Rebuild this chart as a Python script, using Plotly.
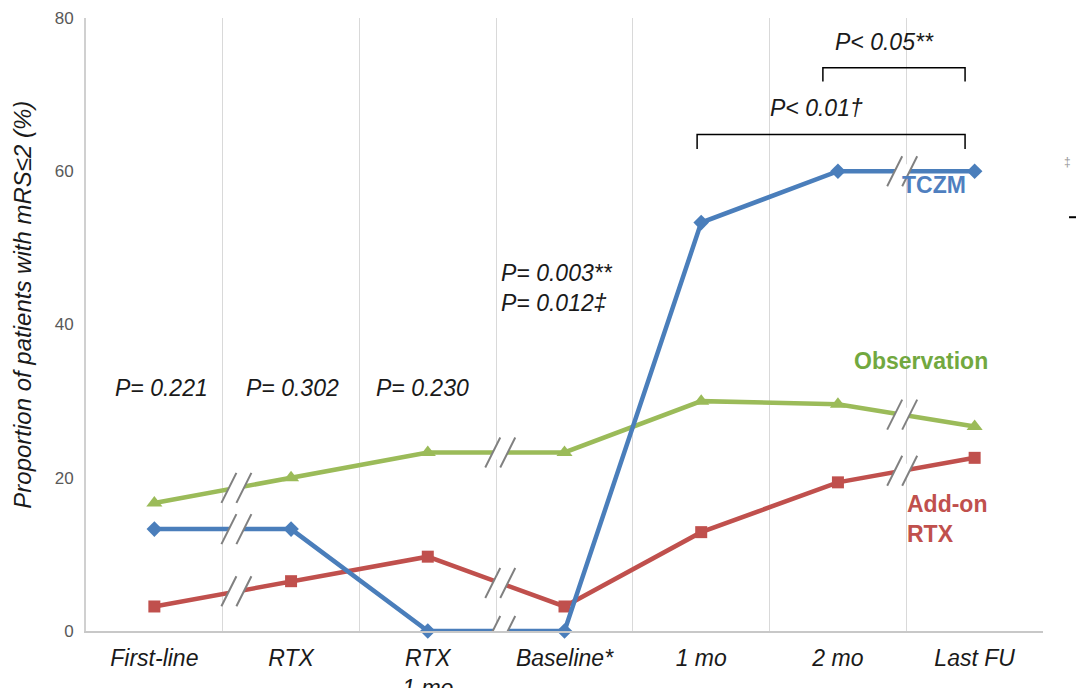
import numpy as np
import plotly.graph_objects as go

# Time points and proportion of patients with mRS<=2 (%) per treatment group
categories = ["First-line", "RTX", "RTX<br>1 mo", "Baseline*", "1 mo", "2 mo", "Last FU"]
tczm = [13.3, 13.3, 0.0, 0.0, 53.3, 60.0, 60.0]
observation = [16.7, 20.0, 23.3, 23.3, 30.0, 29.6, 26.7]
addon_rtx = [3.2, 6.5, 9.7, 3.2, 12.9, 19.4, 22.6]
y_ticks = [0, 20, 40, 60, 80]

BLUE = "#4A7EBB"
GREEN = "#9BBB59"
RED = "#C0504D"
FONT = "Liberation Sans, Arial, sans-serif"

series = [
    ("Observation", observation, GREEN, "triangle-up", 14),
    ("Add-on RTX", addon_rtx, RED, "square", 12),
    ("TCZM", tczm, BLUE, "diamond", 12),
]

fig = go.Figure()
for name, vals, color, symbol, size in series:
    fig.add_trace(go.Scatter(
        x=categories, y=vals, name=name, mode="lines+markers",
        line=dict(color=color, width=4.5),
        marker=dict(symbol=symbol, size=size, color=color),
        cliponaxis=False, showlegend=False,
    ))

# Broken-time-scale markers ("//") across each line
break_positions = [0.6, 2.53, 5.47]
idx = np.arange(len(categories))
shapes = []
for bx in break_positions:
    for _, vals, _, _, _ in series:
        by = float(np.interp(bx, idx, vals))
        common = dict(xref="x", yref="y", xsizemode="pixel", ysizemode="pixel",
                      xanchor=bx, yanchor=by, layer="above")
        shapes.append(dict(type="path", path="M-11,-7L-4,7L11,7L4,-7Z",
                           fillcolor="white", line=dict(width=0), **common))
        shapes.append(dict(type="path", path="M-15,-15L0,15",
                           line=dict(color="#808080", width=2), **common))
        shapes.append(dict(type="path", path="M0,-15L15,15",
                           line=dict(color="#808080", width=2), **common))

# Significance brackets
def bracket(x0, x1, y, drop):
    return dict(type="path", xref="x", yref="y",
                path=f"M{x0},{y - drop} L{x0},{y} L{x1},{y} L{x1},{y - drop}",
                line=dict(color="black", width=1.5), layer="above")

shapes.append(bracket(4.89, 5.93, 73.5, 1.8))
shapes.append(bracket(3.97, 5.93, 64.8, 1.9))

# Fragment of neighbouring content at the right margin
shapes.append(dict(type="line", xref="paper", yref="paper",
                   x0=1.0272, x1=1.036, y0=0.675, y1=0.675,
                   line=dict(color="black", width=2)))

txt = dict(family=FONT, size=23, color="#1a1a1a")
annotations = [
    dict(x=0, y=31.7, text="<i>P= 0.221</i>", xshift=7),
    dict(x=1, y=31.7, text="<i>P= 0.302</i>", xshift=1),
    dict(x=2, y=31.7, text="<i>P= 0.230</i>", xshift=-5),
    dict(x=2.52, y=44.8, text="<i>P= 0.003**<br>P= 0.012‡</i>",
         xanchor="left", align="left"),
    dict(x=5.34, y=76.9, text="<i>P< 0.05**</i>"),
    dict(x=4.84, y=68.3, text="<i>P< 0.01†</i>"),
]
for a in annotations:
    a.update(xref="x", yref="y", showarrow=False, font=txt)
    a.setdefault("xanchor", "center")

label_font = dict(family=FONT, size=23)
annotations += [
    dict(x=5.70, y=58.2, text="<b>TCZM</b>", font=dict(label_font, color="#4F7FBF")),
    dict(x=5.61, y=35.2, text="<b>Observation</b>", font=dict(label_font, color="#72A83F")),
    dict(x=5.49, y=14.6, text="<b>Add-on<br>RTX</b>", xanchor="left", align="left",
         font=dict(label_font, color=RED)),
]
for a in annotations[-3:]:
    a.update(xref="x", yref="y", showarrow=False)

# Y-axis title, placed as rotated text
annotations.append(dict(
    xref="paper", yref="paper", x=-0.066, y=0.532, textangle=-90,
    text="<i>Proportion of patients with mRS≤2 (%)</i>", showarrow=False,
    xanchor="center", yanchor="middle",
    font=dict(family=FONT, size=24, color="#1a1a1a"),
))

annotations.append(dict(xref="paper", yref="paper", x=1.031, y=0.78, text="‡",
                        showarrow=False, font=dict(family=FONT, size=12, color="#999999")))

fig.update_layout(
    width=1076, height=688,
    margin=dict(l=86, r=33, t=18, b=57),
    paper_bgcolor="white", plot_bgcolor="white",
    shapes=shapes, annotations=annotations,
    xaxis=dict(
        type="category", range=[-0.5, 6.5], tickson="boundaries",
        showgrid=True, gridcolor="#D9D9D9", gridwidth=1,
        showline=True, linecolor="#C8C8C8", linewidth=2,
        ticks="", ticklabelstandoff=5, zeroline=False, automargin=False,
        tickfont=dict(family=FONT, size=23, color="#1a1a1a", style="italic"),
    ),
    yaxis=dict(
        range=[0, 80], tickvals=y_ticks, showgrid=False, zeroline=False,
        showline=True, linecolor="#D0D0D0", linewidth=2, ticks="",
        ticklabelstandoff=7, automargin=False,
        tickfont=dict(family=FONT, size=17, color="#595959"),
    ),
)

fig.write_html("out.html")
